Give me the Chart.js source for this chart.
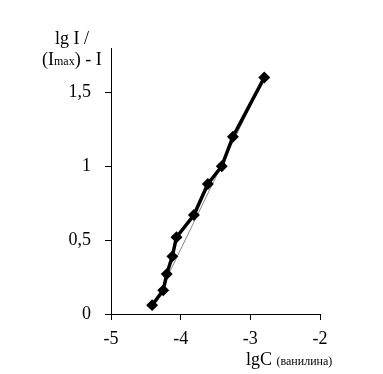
<!DOCTYPE html>
<html>
<head>
<meta charset="utf-8">
<script src="https://cdn.jsdelivr.net/npm/chart.js@4.4.0/dist/chart.umd.min.js"></script>
<style>
  body { margin: 0; background: #fff; }
  #wrap { position: relative; width: 383px; height: 374px; font-family: "Liberation Serif", serif; color: #000; }
  canvas { position: absolute; left: 0; top: 0; }
  .lbl { position: absolute; white-space: nowrap; font-size: 18px; line-height: 1; }
  .small { font-size: 12px; }
</style>
</head>
<body>
<div id="wrap">
  <canvas id="grafico" width="383" height="374"></canvas>
  <div class="lbl" style="left:55px; top:29px;">lg I /</div>
  <div class="lbl" style="left:42px; top:50px;">(I<span class="small">max</span>) - I</div>
  <div class="lbl" style="left:246px; top:350px;">lgC <span class="small">(ванилина)</span></div>
</div>
<script>
// valores
const lgC = [-4.41, -4.25, -4.20, -4.12, -4.06, -3.81, -3.61, -3.41, -3.25, -2.80]
const lgI = [0.06, 0.16, 0.27, 0.39, 0.52, 0.67, 0.88, 1.00, 1.20, 1.60]
// linha de tendência (extremos)
const trendX = [-4.41, -2.80]
const trendY = [0.04, 1.60]
const yTicks = [0, 0.5, 1, 1.5]
const xTicks = [-5, -4, -3, -2]

const pontos = lgC.map((x, i) => ({ x: x, y: lgI[i] }))
const tendencia = trendX.map((x, i) => ({ x: x, y: trendY[i] }))

const ctx = document.getElementById("grafico").getContext("2d")
new Chart(ctx, {
    type: "scatter",
    data: {
        datasets: [{
            data: pontos,
            showLine: true,
            borderColor: "#000",
            backgroundColor: "#000",
            borderWidth: 3.5,
            pointStyle: "rectRot",
            pointRadius: 3.5,
            order: 1
        }, {
            data: tendencia,
            showLine: true,
            borderColor: "#888",
            borderWidth: 1,
            pointRadius: 0,
            order: 2
        }]
    },
    options: {
        responsive: false,
        animation: false,
        layout: { padding: { left: 0, right: 63, top: 48, bottom: 0 } },
        plugins: { legend: { display: false }, tooltip: { enabled: false } },
        scales: {
            x: {
                type: "linear",
                min: -5,
                max: -2,
                afterFit: s => { s.height = 60 },
                afterBuildTicks: s => { s.ticks = xTicks.map(v => ({ value: v })) },
                border: { display: true, color: "#000", width: 1 },
                grid: { drawOnChartArea: false, drawTicks: true, tickLength: 6, color: "#000" },
                ticks: {
                    padding: 8,
                    color: "#000",
                    font: { family: "Liberation Serif", size: 18 },
                    callback: v => String(v)
                }
            },
            y: {
                type: "linear",
                min: 0,
                max: 1.8,
                afterFit: s => { s.width = 111 },
                afterBuildTicks: s => { s.ticks = yTicks.map(v => ({ value: v })) },
                border: { display: true, color: "#000", width: 1 },
                grid: { drawOnChartArea: false, drawTicks: true, tickLength: 6, color: "#000" },
                ticks: {
                    padding: 14,
                    color: "#000",
                    font: { family: "Liberation Serif", size: 18 },
                    callback: v => String(v).replace(".", ",")
                }
            }
        }
    }
})
</script>
</body>
</html>
